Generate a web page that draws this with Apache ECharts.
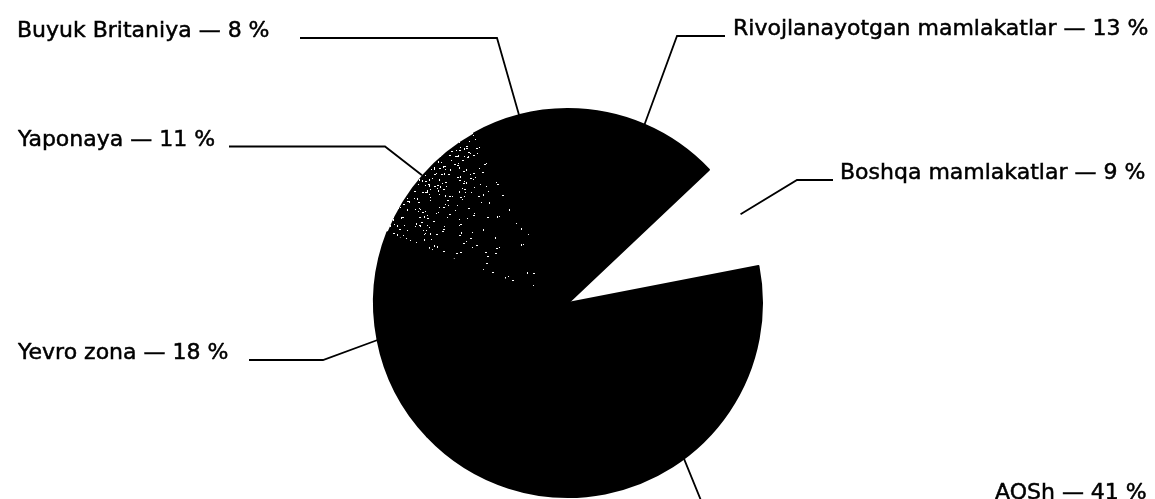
<!DOCTYPE html>
<html>
<head>
<meta charset="utf-8">
<script src="https://cdn.jsdelivr.net/npm/echarts@6/dist/echarts.min.js"></script>
<style>
  html, body { margin: 0; padding: 0; background: #fff; }
  #chart { width: 1155px; height: 499px; }
</style>
</head>
<body>
<div id="chart"></div>
<script>
// Shares of world reserves by holder, in percent
const categories = ['AQSh', 'Yevro zona', 'Yaponaya', 'Buyuk Britaniya', 'Rivojlanayotgan mamlakatlar', 'Boshqa mamlakatlar'];
const shares = [41, 18, 11, 8, 13, 9];

// Fill style per slice: solid black, stippled black, or left empty
const fillKinds = ['solid', 'solid', 'stipple', 'solid', 'solid', 'none'];

// Pie geometry (px) and label placement
const PIE_CENTER = [568, 303];
const PIE_RADIUS = 194;
const START_ANGLE = 11;
const W = 1155, H = 499;

const labelPlacement = [
  { x: 995, y: 493.5, elbow: [713, 530], end: [990, 530], anchorAngle: -53.3 },
  { x: 18,  y: 353.5, elbow: [323, 360], end: [249, 360] },
  { x: 18,  y: 140,   elbow: [385, 146.5], end: [229, 146.5] },
  { x: 17,  y: 31.5,  elbow: [497, 38], end: [300, 38] },
  { x: 733, y: 29.5,  elbow: [677, 36], end: [725, 36] },
  { x: 840, y: 173,   elbow: [797, 180], end: [833, 180] }
];

// Mid-angle of each slice (degrees, counter-clockwise from east)
const total = shares.reduce((a, b) => a + b, 0);
const midAngles = [];
{
  let cum = 0;
  for (const s of shares) {
    midAngles.push(START_ANGLE - 360 * (cum + s / 2) / total);
    cum += s;
  }
}
function rimPoint(deg) {
  const t = deg * Math.PI / 180;
  return [PIE_CENTER[0] + PIE_RADIUS * Math.cos(t), PIE_CENTER[1] - PIE_RADIUS * Math.sin(t)];
}

// Deterministic hash for the stipple texture
function hash(x, y) {
  let n = Math.imul(x, 374761393) ^ Math.imul(y, 668265263);
  n = Math.imul(n ^ (n >>> 13), 1274126177);
  n = n ^ (n >>> 16);
  return (n >>> 0) / 4294967296;
}

// Black texture with white specks, denser toward the rim
function stippleTexture() {
  const c = document.createElement('canvas');
  c.width = W; c.height = H;
  const ctx = c.getContext('2d');
  ctx.fillStyle = '#000';
  ctx.fillRect(0, 0, W, H);
  ctx.fillStyle = '#fff';
  for (let y = 0; y < H; y += 3) {
    for (let x = 0; x < W; x += 3) {
      const r = Math.min(1, Math.hypot(x - PIE_CENTER[0], y - PIE_CENTER[1]) / PIE_RADIUS);
      const p = 0.02 + 0.33 * Math.pow(r, 3);
      if (hash(x, y) < p) {
        const jx = (hash(y + 7, x) * 3) | 0;
        const jy = (hash(x + 11, y + 3) * 3) | 0;
        const k = hash(x + 5, y + 9);
        ctx.fillRect(x + jx, y + jy, k < 0.35 ? 2 : 1, k > 0.8 ? 2 : 1);
      }
    }
  }
  return c;
}

const stipple = stippleTexture();

function itemStyleFor(kind) {
  if (kind === 'none') return { color: 'rgba(0,0,0,0)', borderWidth: 0 };
  if (kind === 'stipple') return { color: { image: stipple, repeat: 'no-repeat' }, borderColor: '#000', borderWidth: 0 };
  return { color: '#000', borderColor: '#000', borderWidth: 2 };
}

const chart = echarts.init(document.getElementById('chart'), null, { renderer: 'canvas' });

chart.setOption({
  animation: false,
  backgroundColor: '#fff',
  series: [{
    type: 'pie',
    center: PIE_CENTER,
    radius: PIE_RADIUS,
    startAngle: START_ANGLE,
    clockwise: true,
    avoidLabelOverlap: false,
    silent: true,
    data: categories.map((name, i) => ({
      name,
      value: shares[i],
      itemStyle: itemStyleFor(fillKinds[i])
    })),
    label: {
      show: true,
      position: 'outer',
      formatter: p => p.name + ' — ' + p.value + ' %',
      color: '#000',
      fontFamily: 'DejaVu Sans',
      fontSize: 22,
      textBorderColor: '#000',
      textBorderWidth: 0.5
    },
    labelLine: {
      show: true,
      smooth: false,
      lineStyle: { color: '#000', width: 1.8 }
    },
    labelLayout: function (params) {
      const i = params.dataIndex;
      const pl = labelPlacement[i];
      const anchor = rimPoint(pl.anchorAngle != null ? pl.anchorAngle : midAngles[i]);
      return {
        x: pl.x,
        y: pl.y,
        align: 'left',
        verticalAlign: 'middle',
        labelLinePoints: [anchor, pl.elbow, pl.end]
      };
    }
  }]
});
</script>
</body>
</html>
